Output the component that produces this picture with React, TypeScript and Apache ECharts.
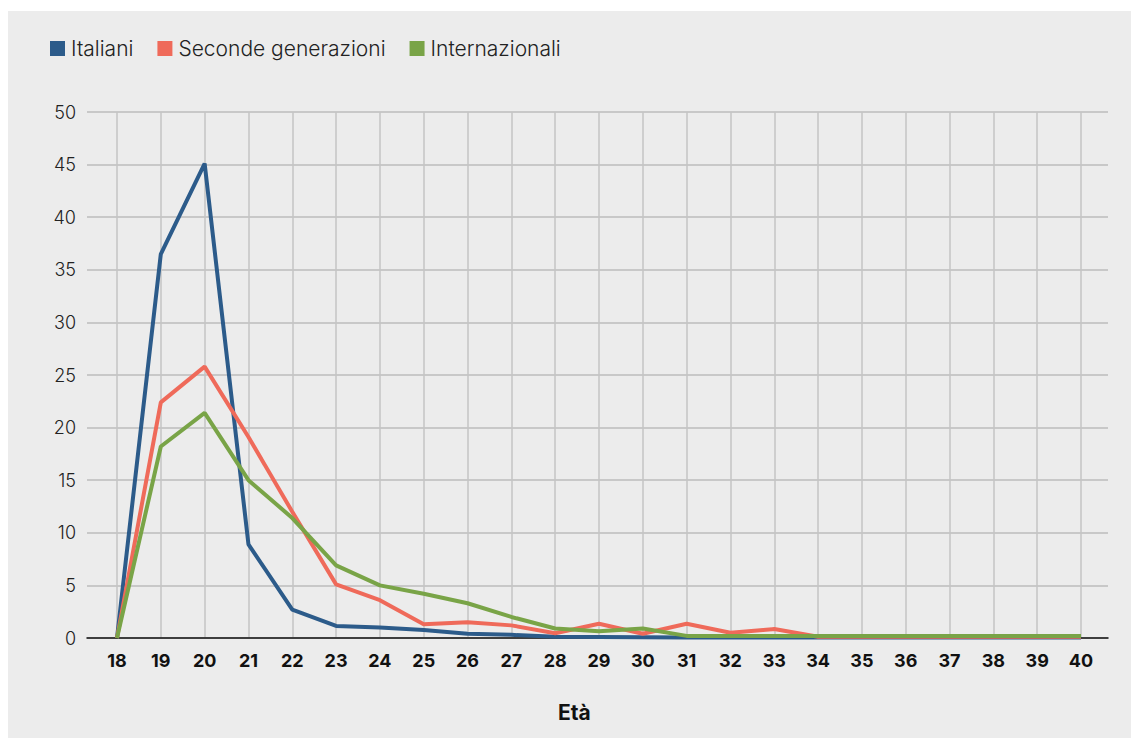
import React, { useEffect, useRef } from "react";
import * as echarts from "echarts";

// Età (anni)
const ages = ["18","19","20","21","22","23","24","25","26","27","28","29","30","31","32","33","34","35","36","37","38","39","40"];

// Percentuali per età
const italiani = [0, 36.5, 45.1, 8.9, 2.7, 1.15, 1.0, 0.75, 0.4, 0.3, 0.12, 0.1, 0.08, 0.05, 0.05, 0.05, 0.05, 0.05, 0.05, 0.05, 0.05, 0.05, 0.05];
const secondeGenerazioni = [0, 22.4, 25.8, 19.1, 12.0, 5.1, 3.6, 1.3, 1.5, 1.2, 0.45, 1.35, 0.4, 1.35, 0.5, 0.85, 0.12, 0.12, 0.12, 0.12, 0.12, 0.12, 0.12];
const internazionali = [0, 18.2, 21.4, 15.0, 11.4, 6.9, 5.0, 4.2, 3.3, 2.0, 0.9, 0.65, 0.9, 0.2, 0.2, 0.2, 0.2, 0.2, 0.2, 0.2, 0.2, 0.2, 0.2];

const yTicks = [0, 50, 5]; // min, max, interval

const FONT = "Inter, 'Noto Sans', sans-serif";
const COLORS = ["#2c5b8a", "#ef6a5a", "#79a447"];

export default function App() {
  const ref = useRef<HTMLDivElement>(null);

  useEffect(() => {
    if (!ref.current) return;
    const chart = echarts.init(ref.current, undefined, { renderer: "svg" });
    const lineSeries = (name: string, data: number[], color: string) => ({
      name,
      type: "line",
      xAxisIndex: 1,
      yAxisIndex: 1,
      data,
      symbol: "none",
      lineStyle: { width: 4, color },
      itemStyle: { color },
    });
    chart.setOption({
      animation: false,
      backgroundColor: "#ececec",
      textStyle: { fontFamily: FONT },
      legend: {
        left: 37,
        top: 22,
        itemWidth: 15,
        itemHeight: 15,
        itemGap: 24,
        icon: "rect",
        textStyle: { fontSize: 21, fontWeight: 300, color: "#222", fontFamily: FONT, padding: [0, 0, 0, 1] },
        data: ["Italiani", "Seconde generazioni", "Internazionali"],
      },
      grid: [
        { left: 79, right: 23, top: 101, bottom: 100 },
        { left: 109, right: 50, top: 101, bottom: 100 },
      ],
      xAxis: [
        {
          type: "value",
          gridIndex: 0,
          min: 0,
          max: 1,
          axisLine: { show: true, lineStyle: { color: "#111", width: 1.5 } },
          axisTick: { show: false },
          axisLabel: { show: false },
          splitLine: { show: false },
        },
        {
          type: "category",
          gridIndex: 1,
          data: ages,
          boundaryGap: false,
          axisLine: { show: false },
          axisTick: { show: false },
          axisLabel: { fontSize: 18, fontWeight: "bold", color: "#111", margin: 13, fontFamily: FONT },
          splitLine: { show: true, lineStyle: { color: "#c4c4c4", width: 1.5 } },
        },
      ],
      yAxis: [
        {
          type: "value",
          gridIndex: 0,
          min: yTicks[0],
          max: yTicks[1],
          interval: yTicks[2],
          axisLine: { show: false },
          axisTick: { show: false },
          axisLabel: { fontSize: 18, fontWeight: 300, color: "#222", margin: 11, fontFamily: FONT },
          splitLine: { show: true, lineStyle: { color: "#bdbdbd", width: 1.5 } },
        },
        {
          type: "value",
          gridIndex: 1,
          min: yTicks[0],
          max: yTicks[1],
          interval: yTicks[2],
          show: false,
          splitLine: { show: false },
        },
      ],
      graphic: [
        {
          type: "text",
          left: 550,
          top: 691,
          style: { text: "Età", fontSize: 21, fontWeight: "bold", fill: "#111", fontFamily: FONT },
        },
      ],
      series: [
        lineSeries("Italiani", italiani, COLORS[0]),
        lineSeries("Seconde generazioni", secondeGenerazioni, COLORS[1]),
        lineSeries("Internazionali", internazionali, COLORS[2]),
      ],
    });
    return () => chart.dispose();
  }, []);

  return (
    <div
      ref={ref}
      style={{ position: "fixed", left: 8, top: 11, width: 1123, height: 727 }}
    />
  );
}
